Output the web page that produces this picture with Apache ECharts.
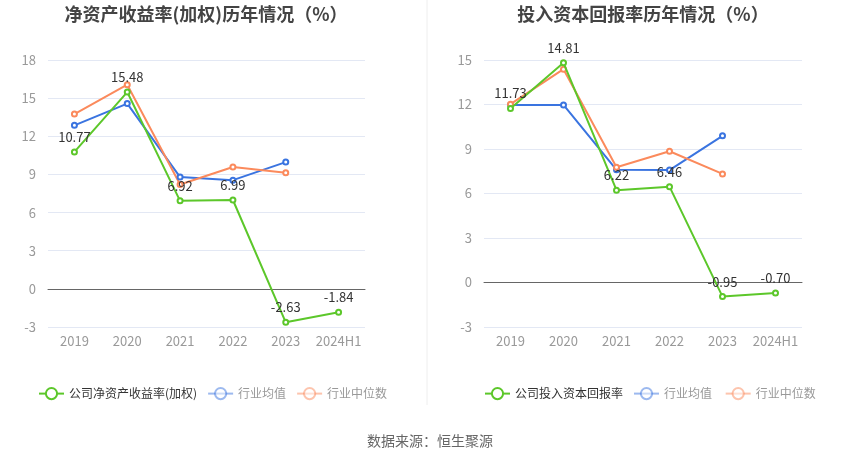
<!DOCTYPE html>
<html>
<head>
<meta charset="utf-8">
<script src="https://cdn.jsdelivr.net/npm/echarts@6/dist/echarts.min.js"></script>
<style>
  html, body { margin: 0; padding: 0; background: #fff; }
  #main { width: 850px; height: 459px; }
</style>
</head>
<body>
<div id="main"></div>
<script>
const years = ['2019', '2020', '2021', '2022', '2023', '2024H1'];

// 净资产收益率(加权)
const roeCompany = [10.77, 15.48, 6.92, 6.99, -2.63, -1.84];
const roeAvg = [12.86, 14.57, 8.79, 8.55, 9.97, null];
const roeMedian = [13.75, 16.06, 8.21, 9.58, 9.13, null];

// 投入资本回报率
const roicCompany = [11.73, 14.81, 6.22, 6.46, -0.95, -0.70];
const roicAvg = [11.96, 11.97, 7.6, 7.58, 9.89, null];
const roicMedian = [12.02, 14.38, 7.77, 8.85, 7.32, null];

const roeTicks = { min: -3, max: 18, interval: 3 };
const roicTicks = { min: -3, max: 15, interval: 3 };

const GREEN = '#5cc72a';
const BLUE = '#3a74e0';
const ORANGE = '#fb8a5c';
const FONT = '"Noto Sans CJK SC", "Noto Sans", sans-serif';

var chart = echarts.init(document.getElementById('main'));

function xAxisFor(idx) {
  return {
    type: 'category',
    gridIndex: idx,
    data: years,
    boundaryGap: true,
    axisLine: { onZero: true, lineStyle: { color: '#666' } },
    axisTick: { alignWithLabel: true, length: 5, lineStyle: { color: '#666' } },
    axisLabel: { color: '#999', fontSize: 13, fontFamily: FONT, margin: 8, interval: 0 }
  };
}

function yAxisFor(idx, t) {
  return {
    type: 'value',
    gridIndex: idx,
    min: t.min,
    max: t.max,
    interval: t.interval,
    axisLine: { show: false },
    axisTick: { show: false },
    axisLabel: { color: '#999', fontSize: 13, fontFamily: FONT, margin: 12 },
    splitLine: { lineStyle: { color: '#e3e8f4' } }
  };
}

function lineSeries(name, data, color, idx, withLabel) {
  return {
    name: name,
    type: 'line',
    xAxisIndex: idx,
    yAxisIndex: idx,
    data: data,
    symbol: 'emptyCircle',
    symbolSize: 5,
    lineStyle: { width: 2, color: color },
    itemStyle: { color: color },
    label: withLabel ? {
      show: true,
      position: 'top',
      color: '#333',
      fontSize: 13,
      fontFamily: FONT,
      formatter: p => p.value.toFixed(2)
    } : { show: false },
    z: withLabel ? 3 : 2
  };
}

function legendFor(left, names) {
  return {
    left: left,
    top: 382,
    itemWidth: 25,
    itemHeight: 14,
    itemGap: 10,
    textStyle: { fontSize: 12, fontFamily: FONT },
    data: [
      { name: names[0], textStyle: { color: '#333' } },
      { name: names[1], itemStyle: { opacity: 0.5 }, lineStyle: { opacity: 0.5 }, textStyle: { color: '#999' } },
      { name: names[2], itemStyle: { opacity: 0.5 }, lineStyle: { opacity: 0.5 }, textStyle: { color: '#999' } }
    ]
  };
}

var option = {
  animation: false,
  textStyle: { fontFamily: FONT },
  title: [
    {
      text: '净资产收益率(加权)历年情况（%）',
      left: 201, top: 0, textAlign: 'center',
      textStyle: { fontSize: 18, fontWeight: 'bold', color: '#444', fontFamily: FONT }
    },
    {
      text: '投入资本回报率历年情况（%）',
      left: 638, top: 0, textAlign: 'center',
      textStyle: { fontSize: 18, fontWeight: 'bold', color: '#444', fontFamily: FONT }
    },
    {
      text: '数据来源：恒生聚源',
      left: 425, top: 429, textAlign: 'center',
      textStyle: { fontSize: 14, fontWeight: 'normal', color: '#666', fontFamily: FONT }
    }
  ],
  grid: [
    { left: 48, right: 485, top: 60, bottom: 132 },
    { left: 484, right: 48, top: 60, bottom: 132 }
  ],
  xAxis: [xAxisFor(0), xAxisFor(1)],
  yAxis: [yAxisFor(0, roeTicks), yAxisFor(1, roicTicks)],
  legend: [
    legendFor(33, ['公司净资产收益率(加权)', '行业均值', '行业中位数']),
    legendFor(479, ['公司投入资本回报率', '行业均值 ', '行业中位数 '])
  ],
  graphic: [
    {
      type: 'line',
      shape: { x1: 427, y1: 0, x2: 427, y2: 405 },
      style: { stroke: '#eee', lineWidth: 1 }
    }
  ],
  series: [
    lineSeries('行业均值', roeAvg, BLUE, 0, false),
    lineSeries('行业中位数', roeMedian, ORANGE, 0, false),
    lineSeries('公司净资产收益率(加权)', roeCompany, GREEN, 0, true),
    lineSeries('行业均值 ', roicAvg, BLUE, 1, false),
    lineSeries('行业中位数 ', roicMedian, ORANGE, 1, false),
    lineSeries('公司投入资本回报率', roicCompany, GREEN, 1, true)
  ]
};

option && chart.setOption(option);
</script>
</body>
</html>
